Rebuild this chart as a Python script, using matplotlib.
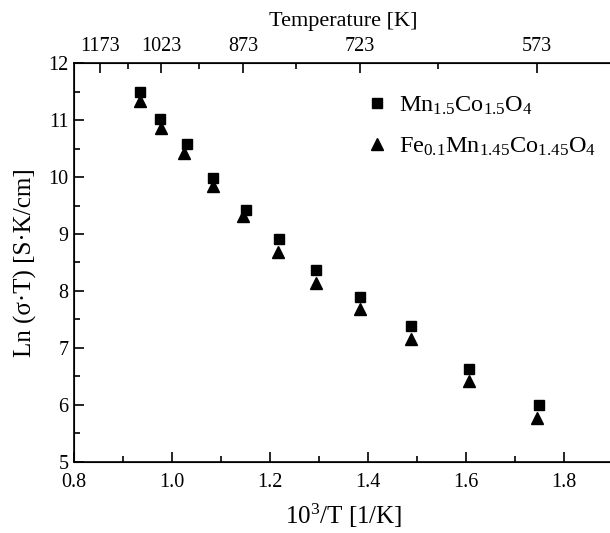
#!/usr/bin/env python3
import numpy as np
import matplotlib
matplotlib.use("Agg")
import matplotlib.pyplot as plt
from matplotlib.ticker import MultipleLocator, FixedLocator

plt.rcParams['font.family'] = ['Liberation Serif', 'DejaVu Serif']
plt.rcParams['mathtext.fontset'] = 'custom'
plt.rcParams['mathtext.rm'] = 'Liberation Serif'
plt.rcParams['mathtext.it'] = 'Liberation Serif:italic'

# data
x_mnco = [0.935, 0.975, 1.031, 1.084, 1.152, 1.218, 1.294, 1.384, 1.487, 1.607, 1.749]
y_mnco = [11.49, 11.02, 10.59, 9.99, 9.43, 8.91, 8.36, 7.90, 7.39, 6.63, 5.99]
x_fe = [0.934, 0.978, 1.024, 1.083, 1.144, 1.216, 1.293, 1.384, 1.488, 1.607, 1.744]
y_fe = [11.33, 10.87, 10.43, 9.85, 9.32, 8.68, 8.14, 7.68, 7.16, 6.41, 5.77]

top_temps = [1173, 1023, 873, 723, 573]
top_minor = [1098, 948, 798, 648]

W, H = 610, 533
fig = plt.figure(figsize=(W / 100, H / 100), dpi=100)
left, right, top, bottom = 74, 613, 63.3, 461.7
ax = fig.add_axes([left / W, 1 - bottom / H, (right - left) / W, (bottom - top) / H])

ax.plot(x_mnco, y_mnco, 's', color='black', markersize=6.5, linestyle='none',
        label=r'$\mathrm{Mn_{1.5}Co_{1.5}O_4}$')
ax.plot(x_fe, y_fe, '^', color='black', markersize=8, linestyle='none',
        label=r'$\mathrm{Fe_{0.1}Mn_{1.45}Co_{1.45}O_4}$')

ax.set_xlim(0.8, 1.9)
ax.set_ylim(5, 12)
ax.xaxis.set_major_locator(MultipleLocator(0.2))
ax.xaxis.set_minor_locator(MultipleLocator(0.1))
ax.yaxis.set_major_locator(MultipleLocator(1))
ax.yaxis.set_minor_locator(MultipleLocator(0.5))
ax.xaxis.set_major_formatter(matplotlib.ticker.FormatStrFormatter('%.1f'))
ax.tick_params(which='both', direction='in', labelsize=14.5, width=1.2, colors='black')
ax.tick_params(which='major', length=7)
ax.tick_params(which='minor', length=4.5)
ax.tick_params(axis='x', pad=8)
ax.tick_params(axis='y', pad=4)
ax.set_xlabel(r'$\mathrm{10^3}$/T [1/K]', fontsize=18, labelpad=7)
ax.set_ylabel('Ln (σ·T) [S·K/cm]', fontsize=18, labelpad=8)
for s in ax.spines.values():
    s.set_linewidth(1.2)

# top axis with temperature
ax2 = ax.twiny()
ax2.set_xlim(ax.get_xlim())
ax2.xaxis.set_major_locator(FixedLocator([1000 / t for t in top_temps]))
ax2.xaxis.set_minor_locator(FixedLocator([1000 / t for t in top_minor]))
ax2.set_xticklabels([str(t) for t in top_temps])
ax2.tick_params(which='both', direction='in', labelsize=14.5, width=1.2, pad=5)
ax2.tick_params(which='major', length=7)
ax2.tick_params(which='minor', length=4.5)
ax2.set_xlabel('Temperature [K]', fontsize=16, labelpad=8)

leg = ax.legend(loc='upper left', bbox_to_anchor=(0.52, 0.945), frameon=False,
                fontsize=17.5, handletextpad=0.35, labelspacing=0.75,
                handlelength=1.1, borderaxespad=0)

fig.savefig('out.png', dpi=100)
